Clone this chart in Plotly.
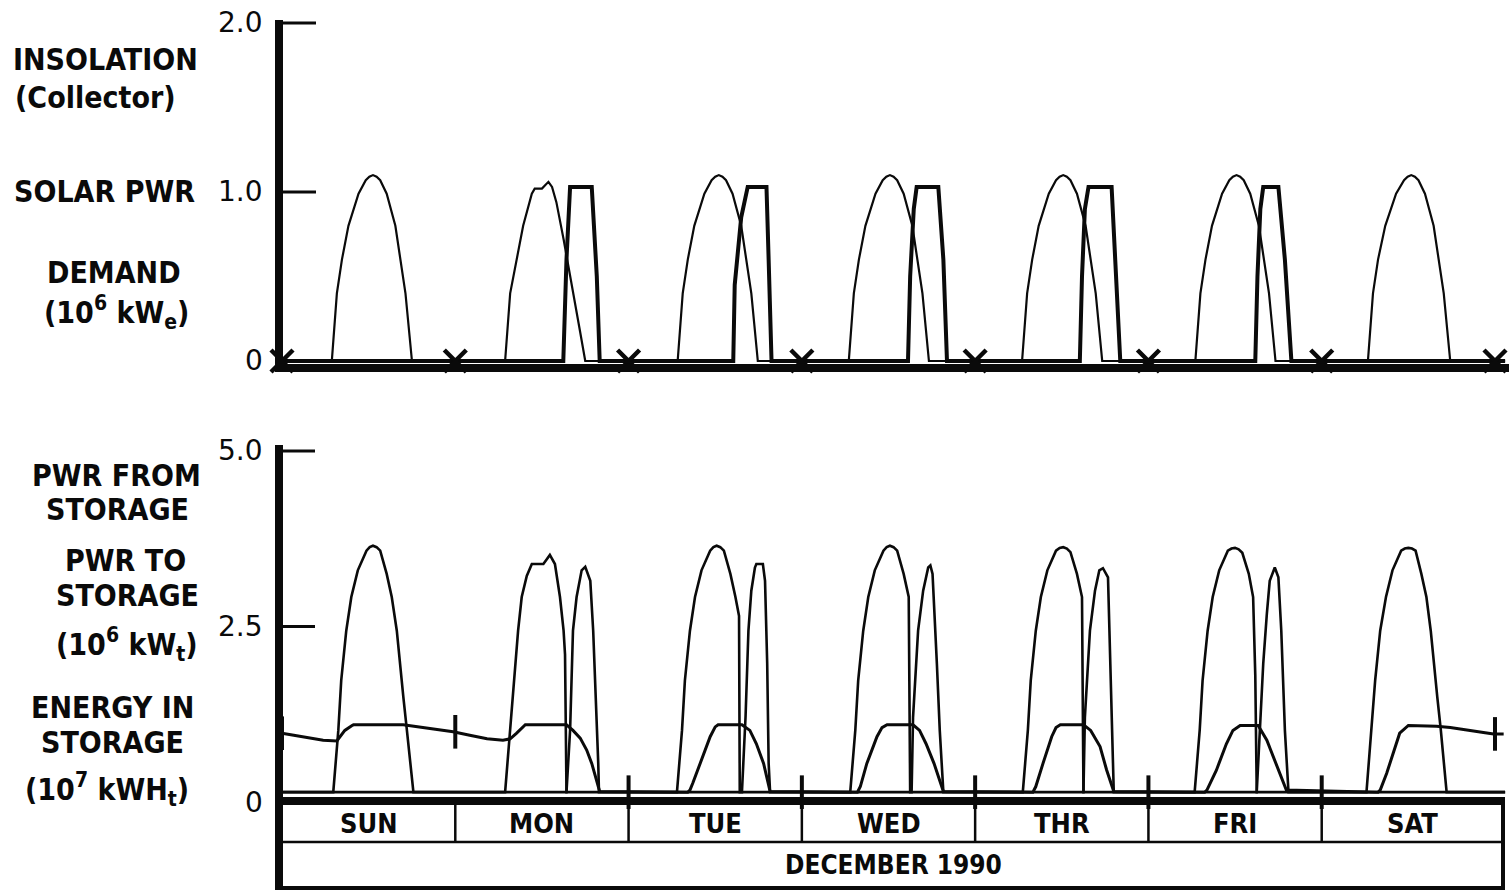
import plotly.graph_objects as go

# ---------------- data (hours of the week, Sunday 00:00 = 0) ----------------
DAYS = ["SUN", "MON", "TUE", "WED", "THR", "FRI", "SAT"]
MONTH = "DECEMBER 1990"
DAY_EDGES = [0, 24, 48, 72, 96, 120, 144, 168]

TOP_TICKS = [0, 1.0, 2.0]
TOP_TICK_TEXT = ["0", "1.0", "2.0"]
BOT_TICKS = [0, 2.5, 5.0]
BOT_TICK_TEXT = ["0", "2.5", "5.0"]

# insolation on the collector / solar power, 10^6 kWe
insol_t = [0,
           6.9, 7.6, 8.3, 9.2, 10.6, 11.6, 12.1, 12.6, 13.1, 13.6, 14.5, 15.7, 16.4, 17.1, 18.0,
           30.9, 31.6, 32.5, 33.4, 34.6, 35.0, 36.0, 36.9, 37.4, 38.0, 39.0, 39.7, 40.6, 41.3, 42.0,
           54.8, 55.5, 56.2, 57.1, 58.5, 59.5, 60.0, 60.5, 61.0, 61.5, 62.4, 63.6, 64.3, 65.0, 65.9,
           78.5, 79.2, 79.9, 80.8, 82.2, 83.2, 83.7, 84.2, 84.7, 85.2, 86.1, 87.3, 88.0, 88.7, 89.6,
           102.5, 103.2, 103.9, 104.8, 106.2, 107.2, 107.7, 108.2, 108.7, 109.2, 110.1, 111.3, 112.0, 112.7, 113.6,
           126.5, 127.2, 127.9, 128.8, 130.2, 131.2, 131.7, 132.2, 132.7, 133.2, 134.1, 135.3, 136.0, 136.7, 137.6,
           150.4, 151.1, 151.8, 152.8, 154.3, 155.4, 155.9, 156.4, 156.9, 157.4, 158.3, 159.5, 160.2, 160.9, 161.8,
           169.4]
insol_v = [0,
           0, 0.40, 0.60, 0.80, 0.99, 1.07, 1.09, 1.10, 1.09, 1.07, 0.99, 0.80, 0.60, 0.40, 0,
           0, 0.40, 0.60, 0.80, 0.99, 1.02, 1.02, 1.06, 1.03, 0.94, 0.72, 0.56, 0.33, 0.17, 0,
           0, 0.40, 0.60, 0.80, 0.99, 1.07, 1.09, 1.10, 1.09, 1.07, 0.99, 0.80, 0.60, 0.40, 0,
           0, 0.40, 0.60, 0.80, 0.99, 1.07, 1.09, 1.10, 1.09, 1.07, 0.99, 0.80, 0.60, 0.40, 0,
           0, 0.40, 0.60, 0.80, 0.99, 1.07, 1.09, 1.10, 1.09, 1.07, 0.99, 0.80, 0.60, 0.40, 0,
           0, 0.40, 0.60, 0.80, 0.99, 1.07, 1.09, 1.10, 1.09, 1.07, 0.99, 0.80, 0.60, 0.40, 0,
           0, 0.40, 0.60, 0.80, 0.99, 1.07, 1.09, 1.10, 1.09, 1.07, 0.99, 0.80, 0.60, 0.40, 0,
           0]

# electrical demand, 10^6 kWe
demand_t = [0,
            38.96, 39.4, 39.9, 42.9, 43.2, 43.6, 44.0,
            62.5, 62.7, 63.6, 64.5, 67.1, 67.4, 67.8,
            86.7, 87.0, 87.5, 87.9, 90.9, 91.1, 91.6, 92.1,
            110.5, 110.8, 111.2, 111.7, 114.9, 115.4, 116.1,
            134.8, 135.1, 135.5, 135.9, 138.0, 138.9, 139.8,
            169.4]
demand_v = [0,
            0, 0.60, 1.03, 1.03, 0.80, 0.50, 0,
            0, 0.45, 0.85, 1.03, 1.03, 0.60, 0,
            0, 0.50, 0.90, 1.03, 1.03, 0.90, 0.60, 0,
            0, 0.50, 0.90, 1.03, 1.03, 0.60, 0,
            0, 0.50, 0.90, 1.03, 1.03, 0.60, 0,
            0]
demand_at_midnight = [0, 0, 0, 0, 0, 0, 0, 0]

# power to storage, 10^6 kWt
to_storage_t = [0,
                7.1, 7.8, 8.2, 8.9, 9.6, 10.5, 11.7, 12.15, 12.6, 13.1, 13.6, 14.5, 15.2, 15.9, 16.3, 16.8, 17.3, 18.2,
                30.9, 31.6, 32.3, 32.7, 33.2, 33.9, 34.6, 36.2, 37.1, 37.8, 38.5, 39.0, 39.2, 39.4,
                54.7, 55.4, 55.8, 56.5, 57.2, 58.1, 59.3, 59.75, 60.2, 60.7, 61.2, 62.1, 62.8, 63.3, 63.4,
                78.7, 79.4, 79.8, 80.5, 81.2, 82.1, 83.3, 83.75, 84.2, 84.7, 85.2, 86.1, 86.8, 87.0,
                102.6, 103.3, 103.7, 104.4, 105.1, 106.0, 107.2, 107.7, 108.2, 108.7, 109.2, 110.1, 110.8, 111.0,
                126.4, 127.1, 127.5, 128.2, 128.9, 129.8, 131.0, 131.5, 132.0, 132.5, 133.0, 133.9, 134.5, 134.8, 135.0,
                150.2, 150.9, 151.4, 152.1, 152.9, 153.8, 155.0, 155.5, 156.0, 156.5, 157.0, 157.8, 158.5, 159.1, 159.5,
                160.0, 160.5, 161.3,
                169.4]
to_storage_v = [0.14,
                0.14, 1.02, 1.73, 2.44, 2.92, 3.30, 3.58, 3.63, 3.65, 3.63, 3.58, 3.25, 2.92, 2.44, 1.97, 1.50, 1.02, 0.14,
                0.14, 1.02, 1.97, 2.44, 2.92, 3.22, 3.39, 3.39, 3.52, 3.39, 2.92, 2.44, 2.10, 0.14,
                0.14, 1.02, 1.73, 2.44, 2.92, 3.30, 3.58, 3.63, 3.65, 3.63, 3.58, 3.25, 2.92, 2.65, 0.14,
                0.14, 1.02, 1.73, 2.44, 2.92, 3.30, 3.58, 3.63, 3.65, 3.63, 3.58, 3.25, 2.92, 0.14,
                0.14, 1.02, 1.73, 2.44, 2.92, 3.30, 3.58, 3.62, 3.63, 3.61, 3.56, 3.25, 2.92, 0.14,
                0.14, 1.02, 1.73, 2.44, 2.92, 3.30, 3.58, 3.61, 3.62, 3.60, 3.55, 3.25, 2.92, 1.80, 0.14,
                0.14, 1.02, 1.73, 2.44, 2.92, 3.30, 3.58, 3.61, 3.62, 3.61, 3.58, 3.25, 2.92, 2.44, 1.97,
                1.50, 1.02, 0.14,
                0.14]

# power from storage, 10^6 kWt
from_storage_t = [0,
                  39.4, 39.9, 40.1, 40.3, 40.8, 41.5, 42.0, 42.7, 43.1, 43.5, 43.8, 43.9,
                  63.7, 64.2, 64.6, 65.0, 65.5, 65.7, 66.6, 66.9, 67.2, 67.4, 67.6,
                  87.2, 87.4, 88.1, 88.8, 89.5, 89.8, 90.1, 90.4, 90.7, 91.1, 91.6,
                  111.0, 111.2, 111.9, 112.6, 113.2, 113.7, 114.4, 114.7, 115.2,
                  135.0, 135.4, 135.9, 136.4, 136.8, 137.5, 138.0, 138.4, 138.9, 139.4,
                  169.4]
from_storage_v = [0.14,
                  0.14, 1.02, 1.97, 2.44, 2.92, 3.30, 3.35, 3.15, 2.44, 1.50, 0.55, 0.14,
                  0.14, 1.21, 2.44, 3.01, 3.34, 3.39, 3.39, 3.15, 1.97, 0.55, 0.14,
                  0.14, 1.21, 2.44, 3.01, 3.34, 3.37, 3.25, 2.68, 1.97, 1.02, 0.14,
                  0.14, 1.21, 2.44, 3.01, 3.30, 3.33, 3.20, 1.97, 0.14,
                  0.14, 1.02, 1.97, 2.68, 3.15, 3.34, 3.20, 2.44, 1.02, 0.14,
                  0.14]

# energy in storage, 10^7 kWht
energy_t = [0.0, 2.9, 5.7, 7.6, 8.7, 9.7, 9.9, 16.8, 19.1, 21.4, 23.7, 26.0, 28.4, 30.6,
            31.6, 32.5, 33.7, 39.4, 40.3, 41.3, 42.2, 42.9, 43.6, 44.0,
            56.2, 56.5, 56.9, 57.9, 59.3, 60.0, 60.4, 63.7, 64.8, 65.7, 66.7, 67.6,
            79.7, 80.1, 81.0, 82.4, 83.1, 83.8, 87.4, 88.3, 89.2, 90.3, 91.6,
            104.0, 104.4, 105.4, 106.6, 107.2, 107.8, 111.0, 112.0, 113.3, 114.2, 115.2,
            127.8, 128.1, 128.5, 129.4, 130.8, 131.7, 132.7, 135.2, 136.4, 137.7, 139.1,
            151.8, 152.1, 153.0, 153.9, 154.8, 156.0, 159.9, 161.8, 164.1, 166.4, 167.8, 169.2]
energy_v = [0.98, 0.93, 0.88, 0.87, 1.02, 1.09, 1.10, 1.10, 1.07, 1.03, 1.00, 0.95, 0.90, 0.88,
            0.90, 0.98, 1.10, 1.10, 1.02, 0.91, 0.74, 0.55, 0.31, 0.15,
            0.14, 0.17, 0.27, 0.55, 0.93, 1.07, 1.10, 1.10, 1.02, 0.83, 0.55, 0.15,
            0.14, 0.22, 0.55, 0.93, 1.06, 1.10, 1.10, 1.02, 0.83, 0.55, 0.15,
            0.14, 0.22, 0.55, 0.93, 1.06, 1.10, 1.10, 1.02, 0.79, 0.46, 0.15,
            0.14, 0.17, 0.26, 0.45, 0.83, 1.02, 1.09, 1.09, 0.88, 0.55, 0.17,
            0.14, 0.17, 0.41, 0.69, 0.98, 1.09, 1.08, 1.06, 1.02, 0.99, 0.97, 0.97]
energy_at_midnight = [0.98, 1.00, 0.14, 0.14, 0.14, 0.14, 0.14, 0.97]

# ---------------- page geometry (pixels) ----------------
W, H = 1509, 892
X0_PX, X168_PX = 282, 1495          # where hour 0 and hour 168 fall
PX_PER_H = (X168_PX - X0_PX) / 168
PLOT_L, PLOT_R = 275, 1509
TOP_T, TOP_B, TOP_ZERO, TOP_UNIT = 20, 372, 361, 169
BOT_T, BOT_B, BOT_ZERO, BOT_UNIT = 445, 805, 802, 70.2
TABLE_RIGHT = 1504
INK = "#0a0a0a"

LABEL_FONT = "Liberation Sans Narrow, DejaVu Sans Condensed, Arial Narrow, sans-serif"
TICK_FONT = "DejaVu Sans, sans-serif"


def px(x):
    return x / W


def py(y):
    return 1 - y / H


def hour_at(xpix):
    return (xpix - X0_PX) / PX_PER_H


fig = go.Figure()

line_traces = [
    (insol_t, insol_v, "y", 2.2, "Insolation"),
    (demand_t, demand_v, "y", 4.0, "Demand"),
    (to_storage_t, to_storage_v, "y2", 2.6, "Power to storage"),
    (from_storage_t, from_storage_v, "y2", 2.6, "Power from storage"),
    (energy_t, energy_v, "y2", 3.0, "Energy in storage"),
]
for t, v, yax, w, name in line_traces:
    fig.add_trace(go.Scatter(x=t, y=v, xaxis="x", yaxis=yax, mode="lines", name=name,
                             line=dict(color=INK, width=w), hoverinfo="skip"))

fig.add_trace(go.Scatter(x=DAY_EDGES, y=demand_at_midnight, xaxis="x", yaxis="y", mode="markers",
                         marker=dict(symbol="x-thin", size=22, line=dict(color=INK, width=4.5)),
                         cliponaxis=False, hoverinfo="skip"))
fig.add_trace(go.Scatter(x=DAY_EDGES, y=energy_at_midnight, xaxis="x", yaxis="y2", mode="markers",
                         marker=dict(symbol="line-ns", size=24, line=dict(color=INK, width=4)),
                         cliponaxis=False, hoverinfo="skip"))

shapes = []


def rect(x0, x1, y0, y1):
    shapes.append(dict(type="rect", xref="paper", yref="paper", x0=px(x0), x1=px(x1),
                       y0=py(y1), y1=py(y0), fillcolor=INK, line=dict(width=0)))


# frames: vertical axes and thick base lines
rect(275, 283, TOP_T, 372)
rect(275, PLOT_R, 364, 372)
rect(275, 283, BOT_T, 890)
rect(275, TABLE_RIGHT + 1, 797, 805)
# table box
rect(275, TABLE_RIGHT + 1, 886, 890)
rect(TABLE_RIGHT - 3, TABLE_RIGHT + 1, 805, 890)
shapes.append(dict(type="line", xref="paper", yref="paper", x0=px(283), x1=px(TABLE_RIGHT),
                   y0=py(842), y1=py(842), line=dict(color=INK, width=2.5)))
for e in DAY_EDGES[1:-1]:
    shapes.append(dict(type="line", xref="x", yref="paper", x0=e, x1=e,
                       y0=py(805), y1=py(842), line=dict(color=INK, width=2.5)))

# tick marks
for v in TOP_TICKS[1:]:
    shapes.append(dict(type="line", xref="paper", yref="y", x0=px(283), x1=px(316),
                       y0=v, y1=v, line=dict(color=INK, width=3)))
for v in BOT_TICKS[1:]:
    shapes.append(dict(type="line", xref="paper", yref="y2", x0=px(283), x1=px(315),
                       y0=v, y1=v, line=dict(color=INK, width=3)))

annotations = []
for v, txt in zip(TOP_TICKS, TOP_TICK_TEXT):
    annotations.append(dict(xref="paper", yref="y", x=px(265), y=v, text=txt, showarrow=False,
                            xanchor="right", yanchor="middle",
                            font=dict(family=TICK_FONT, size=28, color=INK)))
for v, txt in zip(BOT_TICKS, BOT_TICK_TEXT):
    annotations.append(dict(xref="paper", yref="y2", x=px(265), y=v, text=txt, showarrow=False,
                            xanchor="right", yanchor="middle",
                            font=dict(family=TICK_FONT, size=28, color=INK)))

side_labels = [
    ("INSOLATION", 105, 60),
    ("(Collector)", 96, 98),
    ("SOLAR PWR", 104, 192),
    ("DEMAND", 114, 272),
    ("(10<sup>6</sup> kW<sub>e</sub>)", 116, 312),
    ("PWR FROM", 116, 475),
    ("STORAGE", 117, 509),
    ("PWR TO", 125, 560),
    ("STORAGE", 127, 595),
    ("(10<sup>6</sup> kW<sub>t</sub>)", 127, 644),
    ("ENERGY IN", 112, 707),
    ("STORAGE", 112, 742),
    ("(10<sup>7</sup> kWH<sub>t</sub>)", 107, 789),
]
for txt, cx, cy in side_labels:
    annotations.append(dict(xref="paper", yref="paper", x=px(cx), y=py(cy), text=txt,
                            showarrow=False, xanchor="center", yanchor="middle",
                            font=dict(family=LABEL_FONT, size=30, color=INK, weight="bold")))

# day row and month row of the calendar strip
cell_edges = DAY_EDGES[:-1] + [hour_at(TABLE_RIGHT)]
for i, d in enumerate(DAYS):
    annotations.append(dict(xref="x", yref="paper", x=(cell_edges[i] + cell_edges[i + 1]) / 2,
                            y=py(823), text=d, showarrow=False, xanchor="center", yanchor="middle",
                            font=dict(family=LABEL_FONT, size=27, color=INK, weight="bold")))
annotations.append(dict(xref="x", yref="paper", x=(cell_edges[0] + cell_edges[-1]) / 2, y=py(865),
                        text=MONTH, showarrow=False, xanchor="center", yanchor="middle",
                        font=dict(family=LABEL_FONT, size=26, color=INK, weight="bold")))

x_lo = -(X0_PX - PLOT_L) / PX_PER_H
x_hi = 168 + (PLOT_R - X168_PX) / PX_PER_H
hidden = dict(showgrid=False, zeroline=False, showline=False, showticklabels=False, ticks="")

fig.update_layout(
    width=W, height=H, margin=dict(l=0, r=0, t=0, b=0),
    paper_bgcolor="white", plot_bgcolor="white", showlegend=False,
    xaxis=dict(domain=[px(PLOT_L), px(PLOT_R)], range=[x_lo, x_hi], anchor="y2", **hidden),
    yaxis=dict(domain=[py(TOP_B), py(TOP_T)], anchor="x",
               range=[-(TOP_B - TOP_ZERO) / TOP_UNIT, (TOP_ZERO - TOP_T) / TOP_UNIT], **hidden),
    yaxis2=dict(domain=[py(BOT_B), py(BOT_T)], anchor="x",
                range=[-(BOT_B - BOT_ZERO) / BOT_UNIT, (BOT_ZERO - BOT_T) / BOT_UNIT], **hidden),
    shapes=shapes, annotations=annotations,
)

fig.write_html("out.html")
